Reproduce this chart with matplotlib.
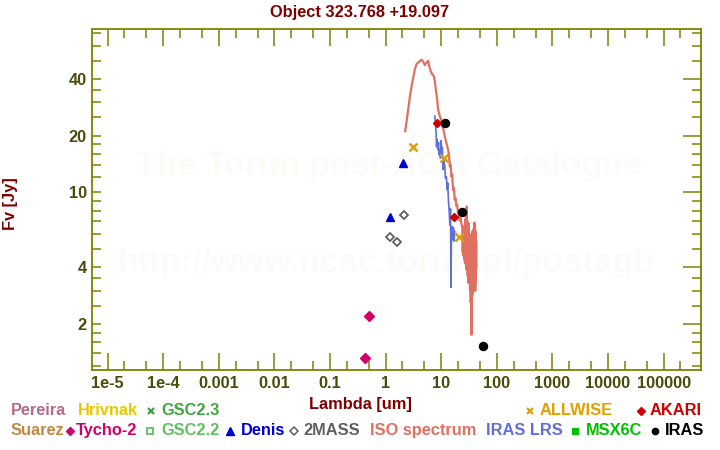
import matplotlib
matplotlib.use('Agg')
import matplotlib.pyplot as plt
from matplotlib.lines import Line2D
from matplotlib.ticker import FixedLocator, FixedFormatter, NullFormatter

plt.rcParams['font.family'] = ['Liberation Sans', 'DejaVu Sans']
plt.rcParams['font.weight'] = 'bold'

# ---------------- data ----------------
tycho_wl = [0.42, 0.50]
tycho_f = [1.32, 2.20]
mass_wl = [1.20, 1.62, 2.12]
mass_f = [5.81, 5.42, 7.57]
denis_wl = [1.20, 2.06]
denis_f = [7.42, 14.3]
allwise_wl = [3.15, 11.0, 21.2]
allwise_f = [17.3, 15.2, 5.77]
akari_wl = [8.5, 17.2]
akari_f = [23.2, 7.36]
iras_wl = [11.6, 23.9, 57.2]
iras_f = [23.2, 7.83, 1.53]

iso_wl = [2.25, 2.39, 2.55, 2.74, 2.94, 3.14, 3.36, 3.61, 4.02, 4.44, 4.74, 5.08,
          5.45, 5.82, 6.07, 6.43, 6.87, 7.36, 7.68, 8.0, 8.45, 8.80, 9.44, 10.1,
          10.8, 11.6, 12.4, 13.3, 13.8, 14.3, 14.8, 15.3, 15.8, 16.3, 16.9, 17.5,
          18.1, 18.8, 19.4, 20.1, 20.8, 21.5, 22.3, 23.1,
          24.0, 24.4, 24.8, 25.2, 25.6, 26.0, 26.4, 26.8, 27.2, 27.6, 28.0, 28.4,
          28.8, 29.2, 29.6, 30.0, 30.5, 31.0, 31.5, 32.0, 32.5, 33.0, 33.5, 34.0,
          34.5, 35.0, 35.5, 36.0, 36.5, 37.0, 37.5, 38.0, 38.5, 39.0, 39.5, 40.0,
          40.5, 41.0, 41.5, 42.0, 42.5, 43.0]
iso_f = [21.1, 23.9, 27.5, 32.4, 36.7, 40.7, 45.1, 48.0, 49.4, 50.6, 49.4, 47.3,
         48.9, 49.9, 46.9, 44.2, 42.4, 41.5, 39.0, 35.2, 31.2, 27.5, 25.4, 23.9,
         22.0, 19.8, 18.3, 16.8, 15.9, 13.7, 14.0, 12.1, 12.4, 10.3, 10.6, 9.1,
         9.3, 8.45, 8.6, 7.7, 7.9, 7.1, 7.3, 6.8,
         6.5, 4.8, 6.2, 4.6, 6.6, 4.4, 6.0, 4.2, 7.2, 4.5, 8.0, 3.9,
         8.4, 4.1, 7.0, 3.6, 6.4, 3.3, 6.8, 3.5, 6.0, 3.0, 5.8, 2.6,
         5.5, 1.75, 5.9, 2.8, 6.2, 2.9, 5.6, 3.2, 6.4, 3.0, 6.9, 3.1,
         6.8, 3.0, 6.2, 3.3, 5.5, 4.0]

lrs_wl = [7.68, 7.90, 8.11, 8.24, 8.45, 8.69, 8.95, 9.17, 9.44, 9.71, 9.96, 10.3,
          10.5, 10.8, 11.1, 11.6, 11.9, 12.4, 12.8, 13.1, 13.5, 13.9, 14.3, 14.7,
          15.0, 15.3, 15.7, 16.1, 16.6, 17.0, 17.5]
lrs_f = [25.4, 22.9, 20.7, 17.5, 19.1, 16.8, 18.4, 15.8, 16.8, 15.2, 18.8, 16.2,
         17.3, 13.2, 14.9, 13.8, 11.9, 12.1, 10.3, 11.2, 9.1, 8.0, 6.7, 8.2,
         3.13, 5.9, 6.6, 5.6, 6.5, 5.5, 6.2]

xtick_vals = [1e-5, 1e-4, 1e-3, 1e-2, 1e-1, 1, 10, 100, 1000, 1e4, 1e5]
xtick_labels = ['1e-5', '1e-4', '0.001', '0.01', '0.1', '1', '10', '100', '1000',
                '10000', '100000']
ytick_vals = [2, 4, 10, 20, 40]
ytick_labels = ['2', '4', '10', '20', '40']
ytick_minor = [1.2, 1.4, 1.6, 1.8, 2.5, 3, 3.5, 5, 6, 7, 8, 9, 12, 14, 16, 18,
               25, 30, 35, 50, 60, 70]
xtick_minor = [m * 10.0 ** e for e in range(-6, 6) for m in (2, 5)]

# ---------------- style ----------------
OLIVE = '#808000'
TICKLAB = '#4b4b0a'
DARKRED = '#800000'
FS = 11.8

fig = plt.figure(figsize=(7.2, 4.5), dpi=100)
L, R, T, B = 92.5, 701, 29.5, 370
ax = fig.add_axes([L / 720, 1 - B / 450, (R - L) / 720, (B - T) / 450])
ax.set_xscale('log')
ax.set_yscale('log')
XLIM = (10 ** -5.272, 10 ** 5.673)
YLIM = (1.138, 73.2)
ax.set_xlim(*XLIM)
ax.set_ylim(*YLIM)

for s in ax.spines.values():
    s.set_color(OLIVE)
    s.set_linewidth(1.3)

ax.xaxis.set_major_locator(FixedLocator(xtick_vals))
ax.xaxis.set_major_formatter(FixedFormatter(xtick_labels))
ax.xaxis.set_minor_locator(FixedLocator(xtick_minor))
ax.xaxis.set_minor_formatter(NullFormatter())
ax.yaxis.set_major_locator(FixedLocator(ytick_vals))
ax.yaxis.set_major_formatter(FixedFormatter(ytick_labels))
ax.yaxis.set_minor_locator(FixedLocator(ytick_minor))
ax.yaxis.set_minor_formatter(NullFormatter())

ax.tick_params(axis='x', which='major', direction='in', length=12.2, width=1.1,
               color=OLIVE, labelcolor=TICKLAB, labelsize=FS, pad=4)
ax.tick_params(axis='x', which='minor', direction='in', length=6.5, width=1.1,
               color=OLIVE)
ax.tick_params(axis='y', which='both', direction='in', length=6.5, width=1.1,
               color=OLIVE, labelcolor=TICKLAB, labelsize=FS, pad=4)
for lab in ax.get_xticklabels() + ax.get_yticklabels():
    lab.set_fontweight('bold')

# top ticks
axt = ax.twiny()
axt.set_xscale('log')
axt.set_xlim(*XLIM)
axt.xaxis.set_major_locator(FixedLocator(xtick_vals))
axt.xaxis.set_minor_locator(FixedLocator(xtick_minor))
axt.xaxis.set_major_formatter(NullFormatter())
axt.xaxis.set_minor_formatter(NullFormatter())
axt.tick_params(axis='x', which='major', direction='in', length=12.2, width=1.1, color=OLIVE)
axt.tick_params(axis='x', which='minor', direction='in', length=6.5, width=1.1, color=OLIVE)
for s in axt.spines.values():
    s.set_visible(False)

# right ticks
axr = ax.twinx()
axr.set_yscale('log')
axr.set_ylim(*YLIM)
axr.yaxis.set_major_locator(FixedLocator(ytick_vals))
axr.yaxis.set_minor_locator(FixedLocator(ytick_minor))
axr.yaxis.set_major_formatter(NullFormatter())
axr.yaxis.set_minor_formatter(NullFormatter())
axr.tick_params(axis='y', which='major', direction='in', length=13, width=1.1, color=OLIVE)
axr.tick_params(axis='y', which='minor', direction='in', length=6.5, width=1.1, color=OLIVE)
for s in axr.spines.values():
    s.set_visible(False)

# watermark
WM = '#fcfbf7'
ax.text(389 / 720, 1 - 175 / 450, 'The Torun post-AGB Catalogue', transform=fig.transFigure,
        ha='center', va='baseline', fontsize=24.5, color=WM, fontweight='bold', zorder=0)
ax.text(386 / 720, 1 - 272 / 450, 'http://www.ncac.torun.pl/postagb', transform=fig.transFigure,
        ha='center', va='baseline', fontsize=24.5, color=WM, fontweight='bold', zorder=0)

# data
ISO_C = '#e07060'
LRS_C = '#6070d8'
ax.plot(iso_wl, iso_f, color=ISO_C, lw=1.6, zorder=2)
ax.plot(lrs_wl, lrs_f, color=LRS_C, lw=1.2, zorder=2.1)
ax.plot(mass_wl, mass_f, ls='none', marker='D', ms=4.2, mfc='white', mec='#606060', mew=1.3, zorder=3)
ax.plot(tycho_wl, tycho_f, ls='none', marker='D', ms=4.6, mfc='#d0006a', mec='#d0006a', zorder=3)
ax.plot(denis_wl, denis_f, ls='none', marker='^', ms=5.5, mfc='#0000d0', mec='#0000d0', zorder=3)
ax.plot(allwise_wl, allwise_f, ls='none', marker='x', ms=5.2, mec='#e0a000', mew=1.8, zorder=3)
ax.plot(akari_wl, akari_f, ls='none', marker='D', ms=4.4, mfc='#d00000', mec='#d00000', zorder=3)
ax.plot(iras_wl, iras_f, ls='none', marker='o', ms=5.8, mfc='black', mec='black', zorder=3)

# titles
fig.text(360 / 720, 1 - 12 / 450, 'Object 323.768 +19.097', ha='center', va='center',
         fontsize=FS, color=DARKRED, fontweight='bold')
fig.text(360 / 720, 1 - 405 / 450, 'Lambda [um]', ha='center', va='center',
         fontsize=FS, color=DARKRED, fontweight='bold')
fig.text(10 / 720, 1 - 204 / 450, 'Fv [Jy]', ha='center', va='center', rotation=90,
         fontsize=FS, color=DARKRED, fontweight='bold')

# legend
def ltext(x, y, s, c):
    fig.text(x / 720, 1 - y / 450, s, ha='left', va='center', fontsize=FS, color=c,
             fontweight='bold')

def lmark(x, y, m, c, ms=4.5, filled=True, mew=1.0):
    fig.add_artist(Line2D([x / 720], [1 - y / 450], transform=fig.transFigure, ls='none',
                          marker=m, ms=ms, mfc=(c if filled else 'white'), mec=c, mew=mew))

Y1, Y2 = 410.5, 430.5
ltext(11, Y1, 'Pereira', '#b56b8c')
ltext(78, Y1, 'Hrivnak', '#e8c800')
lmark(151, Y1, 'x', '#40a040', ms=4.5, mew=1.6)
ltext(161, Y1, 'GSC2.3', '#40a840')
lmark(530, Y1, 'x', '#e0a000', ms=5, mew=1.6)
ltext(540, Y1, 'ALLWISE', '#e0a000')
lmark(641, Y1, 'D', '#d00000', ms=3.8)
ltext(650, Y1, 'AKARI', '#d00000')

ltext(11, Y2, 'Suarez', '#c08840')
lmark(70, Y2, 'D', '#d0006a', ms=3.8)
ltext(76, Y2, 'Tycho-2', '#d0006a')
lmark(150, Y2, 's', '#60c060', ms=4.5, filled=False, mew=1.3)
ltext(161, Y2, 'GSC2.2', '#60c060')
lmark(230, Y2, '^', '#0000d0', ms=5.2)
ltext(241, Y2, 'Denis', '#0000d0')
lmark(294, Y2, 'D', '#606060', ms=3.8, filled=False, mew=1.1)
ltext(303, Y2, '2MASS', '#606060')
ltext(370, Y2, 'ISO spectrum', ISO_C)
ltext(486, Y2, 'IRAS LRS', LRS_C)
lmark(575, Y2, 's', '#00c000', ms=5)
ltext(586, Y2, 'MSX6C', '#00c000')
lmark(655, Y2, 'o', 'black', ms=4.5)
ltext(665, Y2, 'IRAS', 'black')

fig.savefig('out.png', dpi=100, facecolor='white')
